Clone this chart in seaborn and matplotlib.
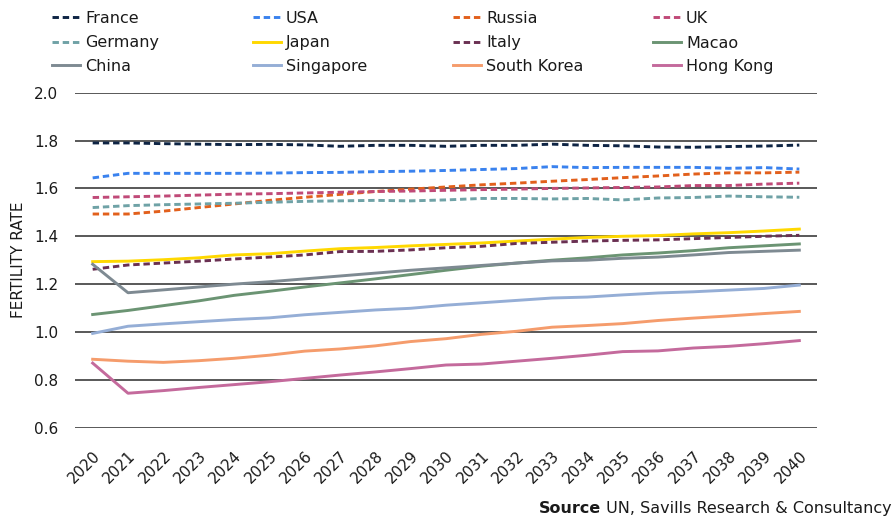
import matplotlib
matplotlib.use("Agg")
import matplotlib.pyplot as plt
import seaborn as sns
import pandas as pd
from matplotlib.lines import Line2D

years = list(range(2020, 2041))

france = [1.790, 1.790, 1.787, 1.785, 1.783, 1.784, 1.782, 1.776, 1.780, 1.780, 1.776,
          1.780, 1.780, 1.785, 1.780, 1.778, 1.773, 1.772, 1.775, 1.777, 1.781]
usa = [1.644, 1.663, 1.663, 1.663, 1.663, 1.664, 1.666, 1.667, 1.670, 1.672, 1.675,
       1.679, 1.683, 1.691, 1.687, 1.688, 1.688, 1.688, 1.684, 1.687, 1.681]
russia = [1.493, 1.493, 1.505, 1.520, 1.535, 1.550, 1.563, 1.575, 1.587, 1.597, 1.606,
          1.615, 1.622, 1.630, 1.637, 1.645, 1.652, 1.660, 1.665, 1.665, 1.668]
uk = [1.562, 1.565, 1.568, 1.572, 1.576, 1.578, 1.581, 1.584, 1.587, 1.589, 1.592,
      1.595, 1.597, 1.600, 1.602, 1.604, 1.606, 1.612, 1.612, 1.618, 1.622]
germany = [1.520, 1.528, 1.532, 1.535, 1.538, 1.542, 1.546, 1.548, 1.550, 1.548, 1.552,
           1.558, 1.558, 1.556, 1.558, 1.552, 1.560, 1.562, 1.568, 1.565, 1.563]
japan = [1.294, 1.296, 1.302, 1.310, 1.322, 1.327, 1.338, 1.348, 1.353, 1.360, 1.366,
         1.372, 1.380, 1.388, 1.395, 1.400, 1.403, 1.410, 1.415, 1.422, 1.430]
italy = [1.262, 1.280, 1.288, 1.296, 1.305, 1.313, 1.322, 1.336, 1.337, 1.343, 1.352,
         1.358, 1.370, 1.375, 1.380, 1.383, 1.385, 1.390, 1.395, 1.400, 1.404]
macao = [1.073, 1.090, 1.110, 1.130, 1.153, 1.170, 1.188, 1.205, 1.222, 1.240, 1.258,
         1.275, 1.288, 1.300, 1.310, 1.322, 1.330, 1.340, 1.352, 1.360, 1.368]
china = [1.283, 1.164, 1.176, 1.188, 1.200, 1.210, 1.222, 1.234, 1.246, 1.258, 1.268,
         1.278, 1.288, 1.297, 1.300, 1.308, 1.313, 1.322, 1.332, 1.337, 1.342]
singapore = [0.994, 1.024, 1.034, 1.043, 1.052, 1.059, 1.072, 1.082, 1.092, 1.099, 1.112,
             1.122, 1.132, 1.142, 1.146, 1.155, 1.163, 1.168, 1.175, 1.182, 1.196]
south_korea = [0.886, 0.878, 0.873, 0.880, 0.890, 0.903, 0.920, 0.929, 0.942, 0.960, 0.972,
               0.990, 1.003, 1.020, 1.027, 1.035, 1.048, 1.058, 1.067, 1.077, 1.086]
hong_kong = [0.870, 0.744, 0.755, 0.768, 0.780, 0.792, 0.806, 0.820, 0.833, 0.847, 0.862,
             0.866, 0.878, 0.890, 0.903, 0.918, 0.921, 0.933, 0.940, 0.951, 0.964]

series = {
    "France": france, "USA": usa, "Russia": russia, "UK": uk,
    "Germany": germany, "Japan": japan, "Italy": italy, "Macao": macao,
    "China": china, "Singapore": singapore, "South Korea": south_korea,
    "Hong Kong": hong_kong,
}
colors = {
    "France": "#0e2444", "USA": "#3a82ee", "Russia": "#e2601c", "UK": "#c04a78",
    "Germany": "#6fa2a6", "Japan": "#ffd800", "Italy": "#6a3052", "Macao": "#6b9473",
    "China": "#7e8a92", "Singapore": "#95aed6", "South Korea": "#f59c6c",
    "Hong Kong": "#c46a9c",
}
dashed = {"France", "USA", "Russia", "UK", "Germany", "Italy"}
dash_pattern = (2.2, 1.3)
dashes = {k: (dash_pattern if k in dashed else "") for k in series}

df = pd.DataFrame(
    [(name, y, v) for name, vals in series.items() for y, v in zip(years, vals)],
    columns=["country", "year", "rate"],
)

plt.rcParams["font.family"] = ["DejaVu Sans"]
TXT = "#1a1a1a"
FS = 11
W, H = 893, 517
fig = plt.figure(figsize=(W / 100, H / 100), dpi=100)
ax = fig.add_axes([75 / W, 1 - 427.7 / H, (817 - 75) / W, (427.7 - 92.7) / H])

sns.lineplot(data=df, x="year", y="rate", hue="country", style="country",
             palette=colors, dashes=dashes, hue_order=list(series),
             style_order=list(series), linewidth=2.1, legend=False, ax=ax)

ax.set_xlim(2019.5, 2040.5)
ax.set_ylim(0.6, 2.0)
yt = [0.6, 0.8, 1.0, 1.2, 1.4, 1.6, 1.8, 2.0]
ax.set_yticks(yt)
ax.set_yticklabels([f"{t:.1f}" for t in yt], fontsize=FS, color=TXT)
ax.set_xticks(years)
ax.set_xticklabels([str(y) for y in years], rotation=45, ha="right",
                   rotation_mode="anchor", fontsize=FS, color=TXT)
ax.tick_params(axis="y", length=0, pad=12)
ax.tick_params(axis="x", length=0, pad=15)
ax.grid(axis="y", color="#3c3c3c", linewidth=1.2)
ax.grid(axis="x", visible=False)
ax.set_axisbelow(True)
for s in ax.spines.values():
    s.set_visible(False)
ax.set_xlabel("")
ax.set_ylabel("FERTILITY RATE", fontsize=FS, color=TXT, labelpad=6)

# Legend: four fixed-width columns, three rows
names = list(series)
col_x = [52, 253, 453, 653]
row_y = [16.7, 41.5, 65]
for i, name in enumerate(names):
    r, c = divmod(i, 4)
    x0, y0 = col_x[c], row_y[r]
    ls = (0, dash_pattern) if name in dashed else "-"
    fig.add_artist(Line2D([x0 / W, (x0 + 28) / W], [1 - y0 / H, 1 - y0 / H],
                          color=colors[name], linewidth=2.1, linestyle=ls))
    fig.text((x0 + 33) / W, 1 - y0 / H, name, fontsize=11.5, va="center_baseline",
             ha="left", color=TXT)

# Source line, right aligned, with a bold lead-in word
src = fig.text(1 - 1 / W, 1 - 507 / H, " UN, Savills Research & Consultancy",
               fontsize=11.5, ha="right", va="center_baseline", color=TXT)
fig.canvas.draw()
bb = src.get_window_extent(renderer=fig.canvas.get_renderer())
fig.text(bb.x0 / W, 1 - 507 / H, "Source", fontsize=11.5, fontweight="bold",
         ha="right", va="center_baseline", color=TXT)

fig.savefig("out.png", dpi=100)
